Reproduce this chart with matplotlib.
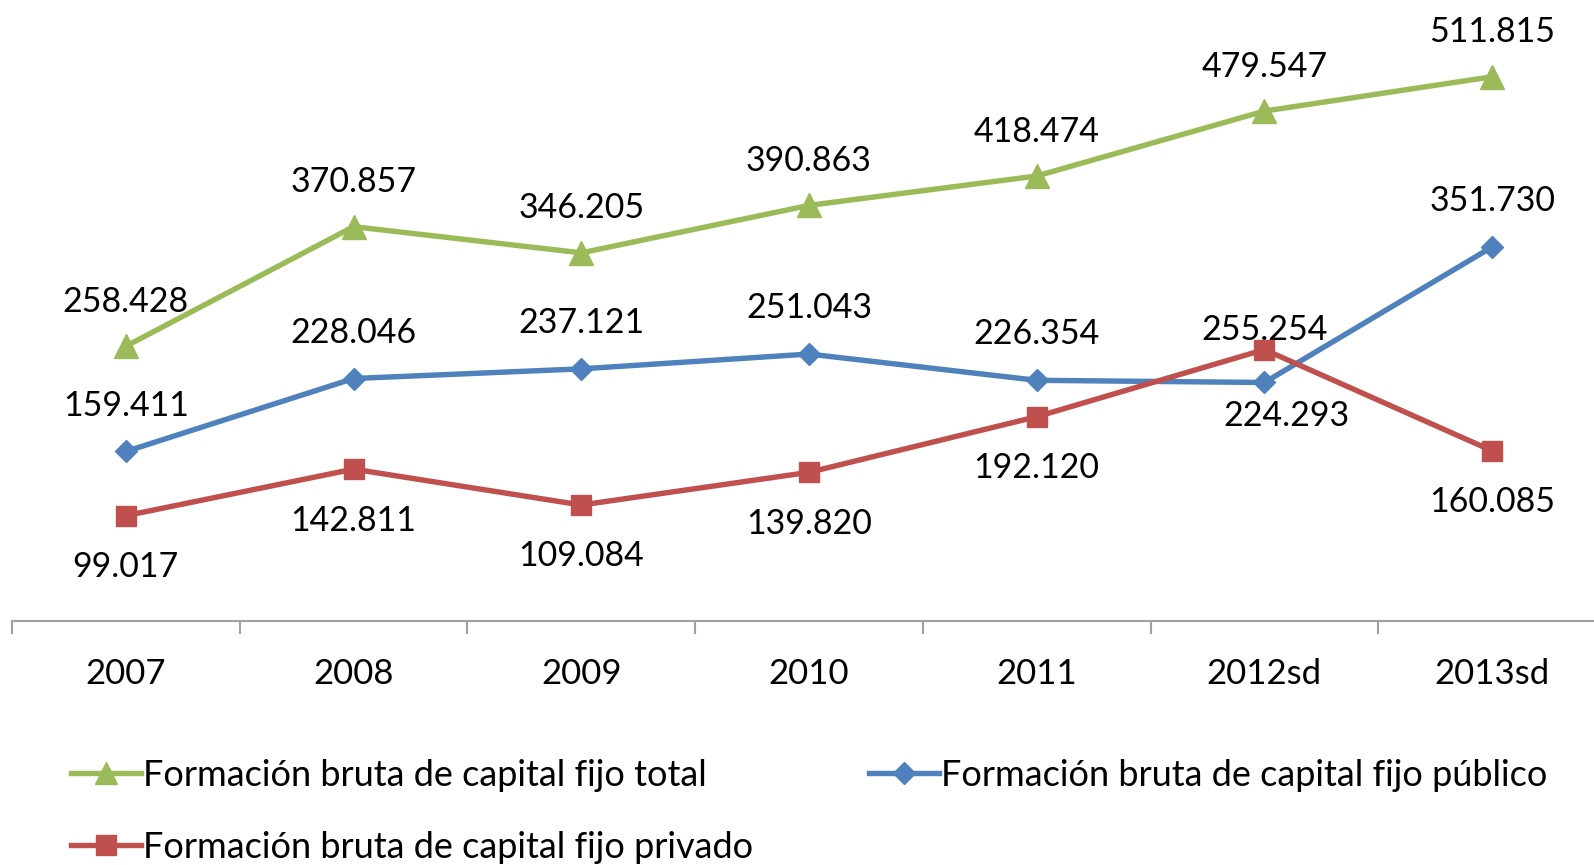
import matplotlib
matplotlib.use("Agg")
import matplotlib.pyplot as plt
from matplotlib.lines import Line2D

categories = ["2007", "2008", "2009", "2010", "2011", "2012sd", "2013sd"]
total = [258.428, 370.857, 346.205, 390.863, 418.474, 479.547, 511.815]
publico = [159.411, 228.046, 237.121, 251.043, 226.354, 224.293, 351.730]
privado = [99.017, 142.811, 109.084, 139.820, 192.120, 255.254, 160.085]
labels_total = ["258.428", "370.857", "346.205", "390.863", "418.474", "479.547", "511.815"]
labels_publico = ["159.411", "228.046", "237.121", "251.043", "226.354", "224.293", "351.730"]
labels_privado = ["99.017", "142.811", "109.084", "139.820", "192.120", "255.254", "160.085"]
names = ["Formación bruta de capital fijo total",
         "Formación bruta de capital fijo público",
         "Formación bruta de capital fijo privado"]

GREEN = "#9BBB59"
BLUE = "#4F81BD"
RED = "#C0504D"
FONT = "Lato"
LW = 3.9

fig = plt.figure(figsize=(15.94, 8.65), dpi=100)
ax = fig.add_axes([12/1594, 1 - 621/865, 1.0075 - 12/1594, 621/865])
x = list(range(len(categories)))

ax.plot(x, total, color=GREEN, lw=LW, marker="^", ms=17, zorder=3)
ax.plot(x, publico, color=BLUE, lw=LW, marker="D", ms=11, zorder=3)
ax.plot(x, privado, color=RED, lw=LW, marker="s", ms=15, zorder=4)

ax.set_xlim(-0.5, 6.5)
ax.set_ylim(0, 584)

fs = 24.5
for i in x:
    ax.annotate(labels_total[i], (i, total[i]), xytext=(0, 32), textcoords="offset points",
                ha="center", va="center", fontsize=fs, family=FONT)
    if i == 5:
        off = (16, -24)
    else:
        off = (0, 33)
    ax.annotate(labels_publico[i], (i, publico[i]), xytext=off, textcoords="offset points",
                ha="center", va="center", fontsize=fs, family=FONT)
    if i == 5:
        off = (0, 14)
    else:
        off = (0, -37)
    ax.annotate(labels_privado[i], (i, privado[i]), xytext=off, textcoords="offset points",
                ha="center", va="center", fontsize=fs, family=FONT, zorder=2)

for s in ["top", "right", "left"]:
    ax.spines[s].set_visible(False)
ax.spines["bottom"].set_color("#A0A0A0")
ax.spines["bottom"].set_linewidth(1.5)
ax.set_yticks([])
ax.set_xticks([i - 0.5 for i in range(8)])
ax.set_xticklabels([])
ax.set_xticks(x, minor=True)
ax.set_xticklabels(categories, minor=True, fontsize=25, family=FONT)
ax.tick_params(axis="x", which="major", length=9, width=1.5, color="#A0A0A0", direction="out")
ax.tick_params(axis="x", which="minor", length=0, pad=27)

handles = [
    Line2D([], [], color=GREEN, lw=LW, marker="^", ms=16),
    Line2D([], [], color=BLUE, lw=LW, marker="D", ms=11),
    Line2D([], [], color=RED, lw=LW, marker="s", ms=15),
]
positions = [(71, 775), (869, 775), (71, 847)]
for h, n, (px, py) in zip(handles, names, positions):
    leg = fig.legend([h], [n], loc="center left", bbox_to_anchor=(px/1594, 1 - py/865),
                     frameon=False, prop={"family": FONT, "size": 26}, handlelength=1.95,
                     handletextpad=0.05, borderaxespad=0, borderpad=0)

fig.savefig("out.png", dpi=100)
